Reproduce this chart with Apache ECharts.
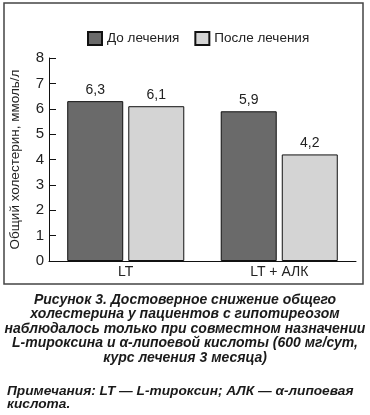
<!DOCTYPE html>
<html><head><meta charset="utf-8">
<script src="https://cdn.jsdelivr.net/npm/echarts@6/dist/echarts.min.js"></script>
<style>html,body{margin:0;padding:0;background:#fff}#c{width:370px;height:415px}</style>
</head><body><div id="c"></div>
<script>
const categories = ['LT', 'LT + АЛК'];
const seriesNames = ['До лечения', 'После лечения'];
const before = [6.3, 5.9];
const after = [6.1, 4.2];
const yTicks = [0, 1, 2, 3, 4, 5, 6, 7, 8];
const yTitle = 'Общий холестерин, ммоль/л';
const captionLines = [
  'Рисунок 3. Достоверное снижение общего',
  'холестерина у пациентов с гипотиреозом',
  'наблюдалось только при совместном назначении',
  'L-тироксина и α-липоевой кислоты (600 мг/сут,',
  'курс лечения 3 месяца)'
];
const noteLines = [
  'Примечания: LT — L-тироксин; АЛК — α-липоевая',
  'кислота.'
];

const font = 'Liberation Sans, Arial, sans-serif';
const chart = echarts.init(document.getElementById('c'), null, {renderer: 'canvas'});
const graphics = [{
  type: 'rect', shape: {x: 4, y: 3, width: 359, height: 281},
  style: {fill: 'none', stroke: '#444', lineWidth: 1.5}, silent: true
}];
captionLines.forEach((t, i) => graphics.push({
  type: 'text', x: 185, y: 300 + i * 14.5,
  style: {text: t, font: 'italic bold 14px ' + font, fill: '#1a1a1a', textAlign: 'center', textVerticalAlign: 'middle'}
}));
noteLines.forEach((t, i) => graphics.push({
  type: 'text', x: 7, y: 391 + i * 13.5,
  style: {text: t, font: 'italic bold 13.7px ' + font, fill: '#1a1a1a', textAlign: 'left', textVerticalAlign: 'middle'}
}));

const lbl = {show: true, position: 'top', distance: 4, color: '#222', fontSize: 14, fontFamily: font,
  formatter: p => String(p.value).replace('.', ',')};

chart.setOption({
  animation: false,
  textStyle: {fontFamily: font},
  legend: {
    data: seriesNames, left: 82, top: 26, itemWidth: 14, itemHeight: 13, itemGap: 15,
    textStyle: {fontSize: 13.5, color: '#222', fontFamily: font},
    icon: 'rect'
  },
  grid: {left: 49, right: 14, top: 58, bottom: 154, containLabel: false},
  xAxis: {
    type: 'category', data: categories,
    axisLine: {lineStyle: {color: '#111', width: 1}},
    axisTick: {inside: true, length: 5, lineStyle: {color: '#111'}},
    axisLabel: {color: '#222', fontSize: 14, margin: 4, fontFamily: font}
  },
  yAxis: {
    type: 'value', min: 0, max: 8, interval: 1,
    name: yTitle, nameLocation: 'middle', nameGap: 27,
    nameTextStyle: {fontSize: 13.5, color: '#222', fontFamily: font},
    axisLine: {show: true, lineStyle: {color: '#111', width: 1}},
    axisTick: {show: true, inside: true, length: 7, lineStyle: {color: '#111'}},
    axisLabel: {color: '#222', fontSize: 15, margin: 5, fontFamily: font,
      formatter: v => yTicks.includes(v) ? String(v) : ''},
    splitLine: {show: false}
  },
  series: [
    {name: seriesNames[0], type: 'bar', data: before, barWidth: 56, barGap: '9%',
     itemStyle: {color: '#6a6a6a', borderColor: '#111', borderWidth: 1}, label: lbl},
    {name: seriesNames[1], type: 'bar', data: after, barWidth: 56,
     itemStyle: {color: '#d4d4d4', borderColor: '#111', borderWidth: 1}, label: lbl}
  ],
  graphic: graphics
});
</script></body></html>
